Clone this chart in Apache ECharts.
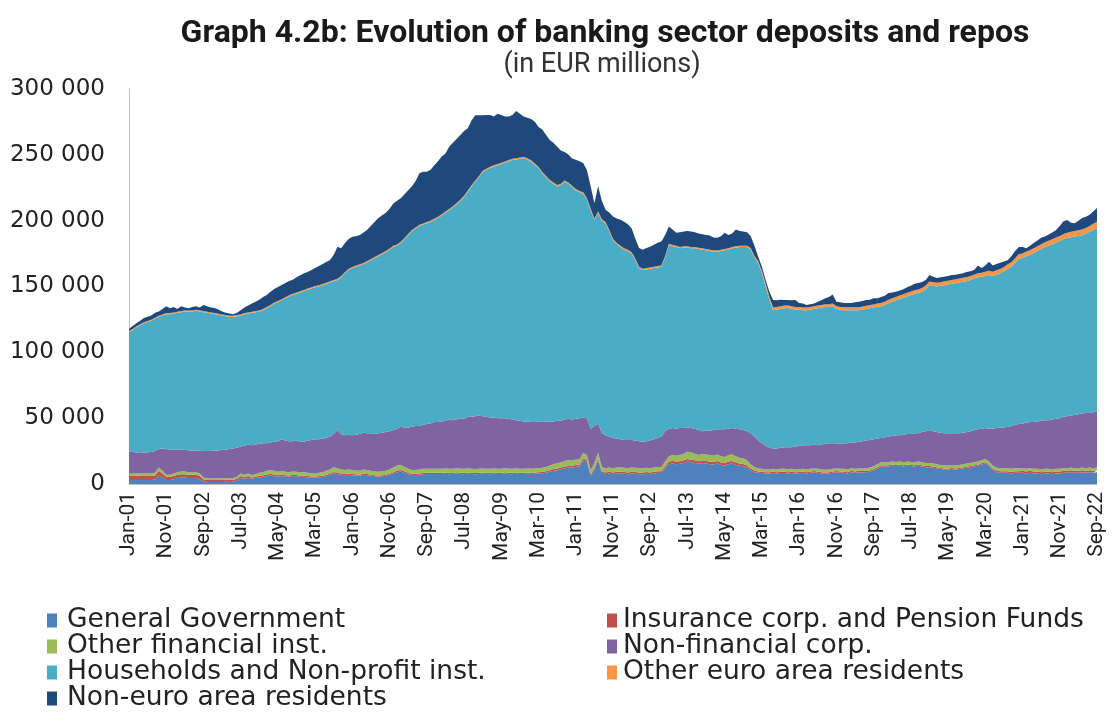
<!DOCTYPE html>
<html>
<head>
<meta charset="utf-8">
<script src="https://cdn.jsdelivr.net/npm/echarts@6/dist/echarts.min.js"></script>
<style>html,body{margin:0;padding:0;background:#fff;}#chart{width:1115px;height:718px;}</style>
</head>
<body>
<div id="chart"></div>
<script>
// Values in thousands of EUR millions (multiplied by UNIT when plotted)
const UNIT = 1000;
const MONTHS = ['Jan','Feb','Mar','Apr','May','Jun','Jul','Aug','Sep','Oct','Nov','Dec'];
const FIRST_YEAR = 2001, LAST_YEAR = 2022, LAST_MONTH = 9;
const categories = [];
for (let y = FIRST_YEAR; y <= LAST_YEAR; y++) {
  for (let m = 0; m < 12; m++) {
    if (y === LAST_YEAR && m >= LAST_MONTH) break;
    categories.push(MONTHS[m] + '-' + String(y).slice(2));
  }
}

const generalGovernment = [
3,3,3,3,3,3,3,3.5,6.5,5,3,3,
3.5,4.5,5,5,4.5,4.5,4.5,3.5,2,1.5,1.5,1.5,
1.5,1.5,1.7,1.5,1.7,2.5,4.5,4,4.5,4,4.5,5,
5.5,6,6.5,6,5.5,6,5.5,5.5,6,5.8,5.3,5.5,
5,4.8,4.7,5,5.3,6,7,8,7.5,7,6.6,7,
6.6,6.5,6.2,7,6.6,6.2,5.8,5.6,5.8,6.2,7,8,
9,9.5,8.5,7.5,6.8,6.8,7,7.5,7.6,7.6,7.6,7.6,
7.6,7.8,7.5,7.6,7.9,7.6,7.5,7.8,7.6,7.4,7.6,7.8,
7.6,7.5,7.8,7.6,7.6,7.9,7.6,7.5,7.8,7.6,7.6,7.8,
7.6,7.8,8,8.2,8.6,9.3,10,10.5,11.2,12,12.3,12.5,
13,13.5,18,16.5,6.5,11,18,8.5,7.5,8,7.5,8,
8,7.8,7.5,8,7.8,7.5,7.5,7.8,7.5,8,8.3,8.3,
12,15,15.5,15,15.3,16,17,16.5,16,15.3,16,15.5,
15,14.8,15.5,14.5,14,15,15.5,14.5,14,13.5,12.5,10.5,
9,8.5,8.3,8,8,8.3,8,8.3,8.3,8,8.3,8,
8.2,8.5,8,8.5,8.8,8.5,8,7.8,8,8.5,8.8,8.5,
8.5,8,9,8.5,9,8.8,9,9.3,10.3,11.8,13.3,13.3,
13.3,13.8,13.6,13.8,13.3,13.8,13.6,13.3,13.8,13.3,12.8,12.8,
12.3,11.8,11.3,10.8,10.8,11.3,10.8,11.3,11.8,12.3,12.8,13.3,
13.8,14.8,15.6,13.8,10.8,9,8.5,8.5,8.5,8,8.5,8.5,
8.5,8,8.5,8,8,7.5,8,8,7.5,8,8,8.5,
8.5,9,8.5,8.5,9,8.5,9,8.5,9
];

const insurancePension = [
3,3,3.2,3,3,3,3,3,3.5,3,2.5,2.5,
2.5,2.5,2.5,2.5,2.5,2.5,2.5,2.5,1.7,1.5,1.5,1.5,
1.5,1.5,1.5,1.5,1.5,1.5,1.5,1.2,1.5,1,1,1.3,
1.2,1.3,1.3,1.3,1.2,1.2,1.2,1,1,1,1,1,
1,0.9,0.9,1,1,1,1,1.2,1.2,1,1,1,
1,0.9,0.9,1,1,0.9,0.9,0.9,0.9,0.9,1,1,
1.2,1.2,1.1,1,1,1,1,1,1,1,1,1,
1,1,1,1,1,1,1,1,1,1,1,1,
1,1,1,1,1,1,1,1,1,1,1,1,
1,1,1,1.1,1.1,1.2,1.3,1.3,1.3,1.3,1.4,1.4,
1.4,1.4,1.5,1.5,1,1.2,1.5,1.2,1.3,1.3,1.3,1.3,
1.3,1.3,1.3,1.3,1.3,1.3,1.3,1.3,1.3,1.3,1.4,1.4,
1.5,2,2,2,2,2,2,2,2,1.9,2,2,
2,1.9,2,1.8,1.8,2,2,1.8,1.6,1.6,1.5,1.3,
1.2,1,1,1,1,1,1,1,1,1,1,1,
1,1,1,1,1,1,1,1,1,1,1,1,
1,1,1,1,1,1,1,1,1,1,1,1,
0.9,0.9,0.9,0.9,0.9,0.9,0.9,0.9,0.9,0.9,0.9,0.9,
0.9,0.9,0.9,0.9,0.9,0.9,0.9,0.9,0.9,0.9,0.9,0.9,
0.9,0.9,1,0.9,0.9,1.2,1.2,1.2,1.2,1.2,1.2,1.2,
1.5,1.5,1.5,1.5,1.5,1.5,1.5,1.5,1.5,1.5,1.5,1.5,
1.5,1.5,1.5,1.5,1.5,1.5,1.5,1.5,1.5
];

const otherFinancial = [
2,2,1.8,2,2,2,2,2,2.5,2,1.5,1.5,
2,2,2,2,2,2,2,2,1.3,1.3,1.3,1.3,
1.3,1.3,1.3,1.3,1.3,1.5,2,1.8,2,1.8,2,2.2,
2.3,2.7,2.8,2.7,2.6,2.6,2.6,2.5,2.5,2.5,2.5,2.5,
2.5,2.4,2.4,2.5,2.7,3,3,3.5,3.3,3,3,3,
3,2.9,2.9,3,3,2.9,2.8,2.8,2.8,2.9,3,3.5,
3.8,3.7,3.4,3,2.8,2.8,3,3,3,3,3,3,
3,3,3,3,3,3,3,3,3,3,3,3,
3,3,3,3,3,3,3,3,3,3,3,3,
3,3,3,3.1,3.3,3.5,3.7,3.9,4,4.2,4.3,4.3,
4.1,4.1,4,4,3,3.8,4.5,3.3,3.2,3.2,3.2,3.2,
3.2,3.2,3.2,3.2,3.2,3.2,3.2,3.2,3.2,3.2,3.3,3.3,
3.5,4,4.5,4.5,4.7,5,5.5,5.5,5,4.8,5,5,
5,4.8,5,4.7,4.7,5,5,4.7,4.4,4.4,4,3.2,
2.8,2.5,2.2,2,2,2.2,2,2.2,2.2,2.2,2.2,2,
2,2,2,2,2,2,2,2,2,2,2,2,
2,2,2,2,2,2,2,2.2,2.2,2.2,2.2,2.2,
2.3,2.3,2.3,2.3,2.3,2.3,2.3,2.3,2.3,2.3,2.3,2.3,
2.3,2.3,2.3,2.3,2.3,2.3,2.3,2.3,2.3,2.3,2.3,2.3,
2.3,2.3,2.4,2.3,2.3,2.3,2.3,2.3,2.3,2.3,2.3,2.3,
2,2,2,2,2,2,2,2,2,2,2,2,
2,2,2,2,2,2,2,2,2
];

const nonFinancialCorp = [
16.5,16.3,16,16.2,16,16,16.5,16.5,14,17,19.5,19,
18,17.2,16.5,16.5,16.5,16.5,16.5,17.3,20,20.7,20.7,21.2,
21.2,21.7,21.5,22.2,22.5,22,20.5,22,22,22.7,22.5,22,
22,21,20.9,22,23.2,24.2,23.7,23.5,23,23.7,23.2,23,
24.5,25.4,26,25.5,25.5,25,25,25.3,29,27,26.4,26.5,
26.4,27.2,28,28,27.9,28.5,28.5,29.2,29.5,29.5,29,28.5,
28,29.1,30,31.5,32.9,33.4,33,33.5,33.9,34.4,35.4,35.4,
35.9,36.2,37.5,36.9,37.1,38.4,38,39.2,39.4,40.1,40.4,39.7,
39.4,39,38.7,38.4,38.4,38.1,37.9,37.5,36.7,36.4,35.9,35.7,
35.4,35.2,35.5,34.6,34.5,33,32.5,32.3,31.5,31.5,31.5,30.8,
31,31,27.1,28,31.5,28,22,26,25,23.5,23,22,
21.5,21.2,21.5,21,20.7,20.5,20,20.2,21,21.5,22,23,
23,21,20.5,20.5,20.5,19.5,18.5,18.5,19,19,17,18,
18.5,19.5,19,20.5,21,20,20,21,21.5,21.5,22,23.5,
23,21,19.5,18,16.5,15.5,16,16,16.5,16.8,16.5,17.5,
17.8,18,18.5,18,18.2,18,19,19.7,20,19.5,19.2,19,
19.5,20,19.5,20,20,20.7,21,21,20.5,19.5,18.5,19,
19.5,19.5,20.2,20,21,21,21.2,22,21.5,23,24,25,
24.5,24.5,24.5,24.5,24.5,24,24.5,24,24,24,24,24.5,
24.5,24,23.5,25,28,30,31,31,31.5,32.5,33,33.5,
34,35,35,35.5,36,37,37,37,38,38,38.5,39,
39.5,39.5,40.5,41,41,42,41.5,42.5,42.5
];

const householdsNPI = [
91,92.7,95,96.3,98,99,99.5,100.5,100.5,101,102.5,103,
103.5,103.8,104.5,105,105.5,105.5,106,105.7,105.5,105,104.5,103.5,
103,102,101.5,100.5,100,100,99.5,100,99.5,100.5,100.5,100.5,
101,102.5,103.5,105,105.5,105.5,108,110,111,111.5,113.5,114.5,
114.5,115,115.5,116,116.5,117,117,116,114,119,123,125,
127,127.5,128,128,130,131.5,133.6,134.5,135.5,136.5,138,139,
139,139.5,143,146,148.5,150,152,152,152.5,153,153.5,155,
156.5,158,159,161.5,163.5,165,168.5,171,175,178.1,181,185.5,
187.5,189.5,190.5,192,193,194,195.5,197,198,199,200.1,199,
197.8,195.5,192.5,189,185.5,183,180.5,178,179,180.6,178.5,176.5,
173.5,171.5,169.9,166,166,156.5,160,161,161,156,150,147.5,
146,144.5,143.5,141.5,137,131.5,130.5,130.5,130.5,130,129.5,129,
132,139.5,138,138,136.5,137,136.5,136.5,137,137.5,138,137,
136.5,135.5,134.9,135.5,136,136,136.5,137.5,138.5,139,140,139.5,
136,134.6,129,121,112.5,105,105.5,105.5,105.5,105.6,105,104,
103.5,102.5,102.5,103,103,104,104,104,103.6,104,102,102,
101,101,100.5,100.5,100,100,100,100,100,100.1,100,100.5,
101.5,102,102.5,103.5,104,104.5,105.5,106,106.5,106.5,108,110,
110.5,110.5,111.5,112.5,113,113.5,114,114.5,114.6,114.5,115,115,
115.5,115.5,115.5,116.7,116,116.5,117,118.5,120,121,123,125.5,
125.6,126.5,127,128.5,129.5,130.5,131.5,132.5,133,134,134.5,135,
135.3,135.5,135.5,135.5,135.5,136,137.5,138.5,139.4
];

const otherEuroArea = [
0.8,0.8,0.8,0.8,0.8,0.8,0.8,0.8,0.8,0.8,0.8,0.8,
0.8,0.8,0.8,0.8,0.8,0.8,0.8,0.8,0.8,0.8,0.8,0.8,
0.8,0.8,0.8,0.8,0.8,0.8,0.8,0.8,0.8,0.8,0.8,0.8,
0.9,0.9,0.9,0.9,0.9,0.9,0.9,0.9,0.9,0.9,0.9,0.9,
0.9,0.9,0.9,0.9,0.9,0.9,0.9,0.9,0.9,0.9,0.9,0.9,
0.9,0.9,0.9,0.9,0.9,0.9,0.9,0.9,0.9,0.9,0.9,0.9,
0.9,0.9,0.9,0.9,0.9,0.9,0.9,0.9,0.9,0.9,0.9,0.9,
0.9,0.9,0.9,0.9,0.9,0.9,0.9,0.9,0.9,0.9,0.9,0.9,
1,1,1,1,1,1,1,1,1,1,1,1,
1,1,1,1,1,1,1,1,1,1,1,1,
1,1,1,1,1,1,1,1,1,1,1,1,
1,1,1,1,1,1,1,1,1,1,1,1,
1,1,1,1,1,1,1,1,1,1,1,1,
1,1,1,1,1,1,1,1,1,1,1,1,
1.2,1.5,1.8,2,2,2,2,2,2,2,2,2,
2,2,2,2,2,2,2,2,2,2,2,2,
2.2,2.2,2.2,2.3,2.3,2.3,2.4,2.4,2.4,2.5,2.5,2.5,
2.5,2.5,2.6,2.6,2.6,2.7,2.7,2.7,2.8,2.8,2.8,2.8,
2.8,2.8,2.8,2.9,2.9,2.9,3,3,3,3,3,3,
3,3,3.2,3.2,3.2,3.3,3.3,3.3,3.4,3.4,3.5,3.5,
3.5,3.5,3.5,3.6,3.6,3.6,3.7,3.7,3.8,3.8,3.8,3.9,
4,4,4.1,4.2,4.3,4.4,4.5,4.6,4.8
];

const nonEuroArea = [
1.7,2.2,2.2,2.7,3.2,3.2,3.2,3.7,3.2,4.2,5.2,3.7,
4.2,2.2,3.7,2.2,1.7,2.7,2.7,2.2,4.7,4.2,3.7,3.8,
3.2,2.2,1.7,1.7,1.2,1.7,3.2,4.2,5.2,6.2,7.2,8.2,
9.2,9.2,10.2,10.2,10.7,10.7,10.8,10.7,10.7,11.7,12.2,12.7,
12.7,13.2,13.7,14.7,15.2,15.7,16.2,19.2,24.2,21.2,22.2,22.7,
22.8,22.2,22.2,23.2,23.7,25.2,26.6,28.2,28.7,29.2,30.2,32.2,
33.2,33.2,33.2,33.2,33.2,35.2,39.2,39.2,38.2,38.7,40.7,42.2,
43.8,44.2,47.2,48.2,48.7,49.2,49.2,47.2,49.2,49.6,46.2,42.2,
40.7,39.2,37.2,38.2,36.2,34.2,33.2,33.2,35.7,33.2,30.6,30.7,
31.4,31.7,30.2,32.2,31.2,30.2,30.2,29.2,25.2,21.6,21.2,20.7,
22.2,22.7,22.3,21.2,17.2,11.7,19.2,14.2,9.2,13.2,17.2,18.7,
19.7,20.2,19.2,18.2,15.2,14.2,14.4,15.2,15.7,16.7,17.7,18.2,
16.2,13.1,11.7,9.8,11.2,11.3,11.7,11.8,11.2,10.7,10.7,10.7,
10.7,9.7,9.6,10.2,12.3,10.2,10.2,12.7,11.2,10.8,10.2,9.2,
7.8,3.5,3.2,3,4,5.7,5,5,4.2,4.1,4.5,5.2,
3,3,2,2,2,3,3.5,4.5,5.4,7,3.5,3.5,
3.3,3.3,3.3,3.7,4.2,4.2,4.3,4.1,4.6,3.9,4.5,4.5,
5,4.5,3.9,3.9,3.9,4.3,4.3,4.8,4.8,4.7,4.2,4.9,
4.2,3.6,3.7,3.6,3.6,3.8,3.5,3.5,3.4,4,3.5,3.5,
6,3.5,4.8,6.9,4.8,4.7,4.7,4.2,3.1,4.6,5.5,5.5,
4.9,2.5,3.5,3.9,4.4,4.9,4.3,4.8,5.2,5.7,7.7,9.6,
9.7,7,5.9,7.3,8.7,8.6,8.5,9.4,10.4
];

const seriesDefs = [
  { name: 'General Government', data: generalGovernment, color: '#4F81BD' },
  { name: 'Insurance corp. and Pension Funds', data: insurancePension, color: '#C0504D' },
  { name: 'Other financial inst.', data: otherFinancial, color: '#9BBB59' },
  { name: 'Non-financial corp.', data: nonFinancialCorp, color: '#8064A2' },
  { name: 'Households and Non-profit inst.', data: householdsNPI, color: '#4BACC6' },
  { name: 'Other euro area residents', data: otherEuroArea, color: '#F79646' },
  { name: 'Non-euro area residents', data: nonEuroArea, color: '#1F497D' }
];

// legend placement: [series name, column, row]
const legendLayout = [
  ['General Government', 0, 0],
  ['Other financial inst.', 0, 1],
  ['Households and Non-profit inst.', 0, 2],
  ['Non-euro area residents', 0, 3],
  ['Insurance corp. and Pension Funds', 1, 0],
  ['Non-financial corp.', 1, 1],
  ['Other euro area residents', 1, 2]
];
const LEGEND_COL_X = [47, 607];
const LEGEND_ROW_Y0 = 620, LEGEND_ROW_STEP = 26;

const FONT = "Roboto, 'DejaVu Sans', sans-serif";
const LFONT = "'DejaVu Sans', Roboto, sans-serif";
const fmt = v => String(v).replace(/\B(?=(\d{3})+(?!\d))/g, ' ');

const chart = echarts.init(document.getElementById('chart'), null, { renderer: 'canvas' });
chart.setOption({
  animation: false,
  backgroundColor: '#ffffff',
  title: [
    { text: 'Graph 4.2b: Evolution of banking sector deposits and repos', left: 600, top: 13, textAlign: 'center',
      textStyle: { fontFamily: FONT, fontSize: 32, fontWeight: 'bold', color: '#1a1a1a' } },
    { text: '(in EUR millions)', left: 597, top: 47, textAlign: 'center',
      textStyle: { fontFamily: FONT, fontSize: 27, fontWeight: 'normal', color: '#333' } }
  ],
  legend: legendLayout.map(([name, col, row]) => ({
    orient: 'horizontal', left: LEGEND_COL_X[col], top: LEGEND_ROW_Y0 + row * LEGEND_ROW_STEP - 13,
    padding: 0, itemWidth: 10, itemHeight: 14, icon: 'rect', data: [name],
    textStyle: { fontFamily: LFONT, fontSize: 26.5, color: '#222', lineHeight: 26, padding: [0, 0, 0, col === 0 ? 5 : 1] }
  })),
  grid: { left: 129, right: 18, top: 89, bottom: 234, containLabel: false },
  xAxis: {
    type: 'category', data: categories, boundaryGap: false,
    axisLine: { show: true, lineStyle: { color: '#bfbfbf' } },
    axisTick: { show: false },
    axisLabel: { interval: 9, rotate: 90, margin: 8, fontFamily: FONT, fontSize: 21, color: '#222' },
    splitLine: { show: false }
  },
  yAxis: {
    type: 'value', min: 0, max: 300000, interval: 50000,
    axisLine: { show: true, lineStyle: { color: '#bfbfbf' } },
    axisTick: { show: false },
    splitLine: { show: false },
    axisLabel: { margin: 24, fontFamily: LFONT, fontSize: 23, color: '#222', formatter: v => fmt(v) }
  },
  series: seriesDefs.map(s => ({
    name: s.name, type: 'line', stack: 'total', data: s.data.map(v => Math.round(v * UNIT)),
    symbol: 'none', showSymbol: false, smooth: false,
    lineStyle: { width: 0 }, itemStyle: { color: s.color },
    areaStyle: { color: s.color, opacity: 1 }
  }))
});
</script>
</body>
</html>
